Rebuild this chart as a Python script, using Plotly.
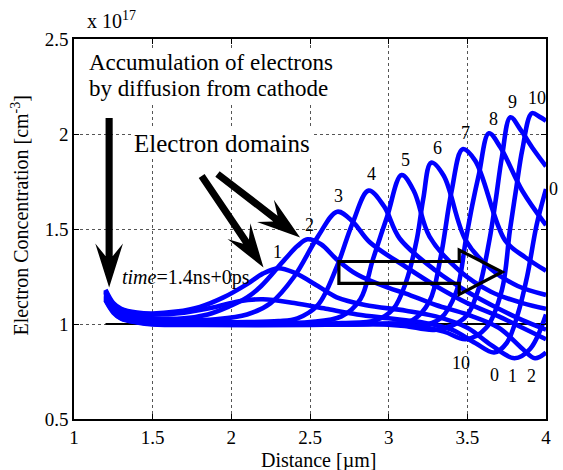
import plotly.graph_objects as go

# ---------------- data ----------------
x_ticks = [1, 1.5, 2, 2.5, 3, 3.5, 4]
x_tick_labels = ["1", "1.5", "2", "2.5", "3", "3.5", "4"]
y_ticks = [0.5, 1, 1.5, 2, 2.5]
y_tick_labels = ["0.5", "1", "1.5", "2", "2.5"]

doping_x = [1.2, 4.0]
doping_y = [1.0, 1.0]

x_t0 = [1.20, 1.25, 1.30, 1.40, 1.50, 1.70, 1.90, 2.05, 2.20, 2.40, 2.60, 2.80, 3.00, 3.20, 3.40, 3.55, 3.67, 3.75, 3.82, 3.88, 3.94, 4.00]
y_t0 = [1.17, 1.10, 1.075, 1.055, 1.05, 1.06, 1.09, 1.12, 1.13, 1.11, 1.08, 1.05, 1.03, 1.01, 0.97, 0.90, 0.85, 0.90, 1.05, 1.25, 1.52, 1.71]

x_t1 = [1.20, 1.25, 1.30, 1.40, 1.50, 1.65, 1.80, 1.95, 2.10, 2.20, 2.296, 2.40, 2.55, 2.67, 2.85, 3.11, 3.30, 3.50, 3.65, 3.80, 3.90, 4.00]
y_t1 = [1.18, 1.11, 1.08, 1.06, 1.055, 1.065, 1.09, 1.14, 1.21, 1.265, 1.293, 1.27, 1.20, 1.14, 1.10, 1.07, 1.04, 0.98, 0.89, 0.82, 0.87, 1.05]

x_t2 = [1.20, 1.25, 1.30, 1.40, 1.50, 1.70, 1.85, 1.98, 2.10, 2.19, 2.34, 2.42, 2.484, 2.57, 2.67, 2.80, 3.00, 3.11, 3.30, 3.50, 3.70, 3.85, 3.93, 4.00]
y_t2 = [1.175, 1.10, 1.07, 1.04, 1.03, 1.03, 1.05, 1.09, 1.14, 1.20, 1.34, 1.41, 1.446, 1.42, 1.34, 1.26, 1.19, 1.16, 1.10, 1.05, 0.98, 0.87, 0.82, 0.85]

x_t3 = [1.20, 1.25, 1.30, 1.40, 1.50, 1.70, 1.90, 2.10, 2.25, 2.40, 2.55, 2.673, 2.77, 2.88, 3.11, 3.30, 3.50, 3.70, 3.85, 4.00]
y_t3 = [1.165, 1.09, 1.06, 1.035, 1.025, 1.02, 1.025, 1.05, 1.11, 1.25, 1.46, 1.591, 1.54, 1.43, 1.30, 1.20, 1.11, 1.04, 0.98, 0.92]

x_t4 = [1.20, 1.25, 1.30, 1.40, 1.50, 1.80, 2.10, 2.30, 2.42, 2.55, 2.67, 2.77, 2.872, 2.97, 3.07, 3.30, 3.50, 3.70, 3.85, 4.00]
y_t4 = [1.16, 1.09, 1.055, 1.03, 1.02, 1.01, 1.01, 1.015, 1.03, 1.10, 1.30, 1.53, 1.702, 1.62, 1.45, 1.28, 1.17, 1.08, 1.02, 0.97]

x_t5 = [1.20, 1.25, 1.30, 1.40, 1.50, 1.80, 2.20, 2.50, 2.70, 2.82, 2.90, 2.99, 3.082, 3.16, 3.26, 3.45, 3.65, 3.85, 4.00]
y_t5 = [1.15, 1.085, 1.05, 1.025, 1.015, 1.005, 1.005, 1.01, 1.04, 1.13, 1.34, 1.565, 1.784, 1.70, 1.46, 1.28, 1.17, 1.11, 1.08]

x_t6 = [1.20, 1.25, 1.30, 1.40, 1.50, 1.80, 2.30, 2.70, 2.92, 3.03, 3.11, 3.18, 3.22, 3.27, 3.35, 3.49, 3.65, 3.82, 4.00]
y_t6 = [1.145, 1.08, 1.045, 1.02, 1.01, 1.0, 1.0, 1.005, 1.02, 1.08, 1.22, 1.45, 1.66, 1.849, 1.78, 1.44, 1.29, 1.20, 1.153]

x_t7 = [1.20, 1.25, 1.30, 1.40, 1.50, 1.80, 2.40, 2.90, 3.15, 3.26, 3.33, 3.40, 3.47, 3.55, 3.74, 3.87, 4.00]
y_t7 = [1.14, 1.075, 1.04, 1.015, 1.005, 1.0, 1.0, 1.0, 1.02, 1.12, 1.35, 1.70, 1.92, 1.86, 1.44, 1.35, 1.28]

x_t8 = [1.20, 1.25, 1.30, 1.40, 1.50, 1.80, 2.50, 3.00, 3.20, 3.33, 3.43, 3.49, 3.53, 3.574, 3.637, 3.71, 3.85, 4.00]
y_t8 = [1.135, 1.07, 1.035, 1.012, 1.003, 0.998, 0.998, 1.0, 0.99, 1.03, 1.17, 1.44, 1.62, 1.79, 2.004, 1.93, 1.70, 1.52]

x_t9 = [1.20, 1.25, 1.30, 1.40, 1.50, 1.80, 2.50, 2.90, 3.10, 3.30, 3.48, 3.57, 3.64, 3.68, 3.72, 3.774, 3.84, 3.92, 4.00]
y_t9 = [1.13, 1.065, 1.03, 1.01, 1.0, 0.997, 0.997, 1.0, 0.99, 0.97, 1.03, 1.18, 1.44, 1.65, 1.88, 2.088, 2.02, 1.92, 1.83]

x_t10 = [1.20, 1.25, 1.30, 1.40, 1.50, 1.80, 2.50, 2.90, 3.10, 3.35, 3.49, 3.62, 3.72, 3.77, 3.81, 3.85, 3.91, 3.96, 4.00]
y_t10 = [1.125, 1.06, 1.028, 1.008, 0.998, 0.995, 0.995, 1.0, 1.0, 0.96, 0.92, 0.98, 1.18, 1.49, 1.71, 1.92, 2.109, 2.09, 2.07]

series_x = [x_t0, x_t1, x_t2, x_t3, x_t4, x_t5, x_t6, x_t7, x_t8, x_t9, x_t10]
series_y = [y_t0, y_t1, y_t2, y_t3, y_t4, y_t5, y_t6, y_t7, y_t8, y_t9, y_t10]

top_labels = ["1", "2", "3", "4", "5", "6", "7", "8", "9", "10", "0"]
bottom_labels = ["10", "0", "1", "2"]

# ---------------- layout helpers ----------------
W, H = 563, 470
L, R, T, B = 74, 551, 39, 419
FONT = "Times New Roman, Liberation Serif, serif"


def dx(px):
    return 1 + (px - L) / (R - L) * 3


def dy(py):
    return 2.5 - (py - T) / (B - T) * 2


def arrow_path(tail, tip, w=3.6, hl=44, hw=14, notch=17):
    (tx, ty), (hx, hy) = tail, tip
    vx, vy = hx - tx, hy - ty
    ln = (vx ** 2 + vy ** 2) ** 0.5
    ux, uy = vx / ln, vy / ln
    nx, ny = -uy, ux
    s = 1 - w / hw
    a = -hl + s * notch
    pts = [
        (tx + w * nx, ty + w * ny),
        (hx + a * ux + w * nx, hy + a * uy + w * ny),
        (hx - hl * ux + hw * nx, hy - hl * uy + hw * ny),
        (hx, hy),
        (hx - hl * ux - hw * nx, hy - hl * uy - hw * ny),
        (hx + a * ux - w * nx, hy + a * uy - w * ny),
        (tx - w * nx, ty - w * ny),
    ]
    return "M" + "L".join(f"{dx(p[0]):.5f},{dy(p[1]):.5f}" for p in pts) + "Z"


fig = go.Figure()

fig.add_trace(go.Scatter(x=doping_x, y=doping_y, mode="lines",
                         line=dict(color="black", width=2), hoverinfo="skip"))

for xs, ys in zip(series_x, series_y):
    fig.add_trace(go.Scatter(x=xs, y=ys, mode="lines",
                             line=dict(color="#0000FF", width=4.6, shape="spline", smoothing=1.0),
                             hoverinfo="skip"))

shapes = []
for tail, tip in [((109.5, 118), (109.5, 287.5)),
                  ((203, 176), (265.5, 267.5)),
                  ((219, 174), (302.5, 237.5))]:
    shapes.append(dict(type="path", path=arrow_path(tail, tip), xref="x", yref="y",
                       fillcolor="black", line=dict(width=0), layer="above"))

hollow = [(341.7, 261.5), (463.3, 261.5), (463.3, 250), (506.7, 272), (463.3, 294.3),
          (463.3, 283.3), (341.7, 283.3)]
shapes.append(dict(type="path",
                   path="M" + "L".join(f"{dx(p[0]):.5f},{dy(p[1]):.5f}" for p in hollow) + "Z",
                   xref="x", yref="y", line=dict(color="black", width=3.2),
                   fillcolor="rgba(0,0,0,0)", layer="above"))

ann = []
top_pos = [(280, 252), (312, 225), (341.7, 196), (374.5, 174), (409, 160), (441.7, 148.3),
           (469.3, 133.3), (497.7, 119.3), (516.7, 102.3), (541.7, 98.3), (558.3, 189)]
for t, (px, py) in zip(top_labels, top_pos):
    ann.append(dict(x=(px - L) / (R - L), y=(B - py) / (B - T), xref="paper", yref="paper",
                    text=t, showarrow=False,
                    font=dict(family=FONT, size=18, color="black"), xanchor="center", yanchor="middle"))
bot_pos = [(465, 362.7), (499, 375), (517.3, 376), (536.7, 376)]
for t, (px, py) in zip(bottom_labels, bot_pos):
    ann.append(dict(x=(px - L) / (R - L), y=(B - py) / (B - T), xref="paper", yref="paper",
                    text=t, showarrow=False,
                    font=dict(family=FONT, size=18, color="black"), xanchor="center", yanchor="middle"))

ann.append(dict(x=dx(87), y=dy(62), xref="x", yref="y", text="Accumulation of electrons",
                showarrow=False, xanchor="left", yanchor="middle", bgcolor="white",
                font=dict(family=FONT, size=23, color="black")))
ann.append(dict(x=dx(87), y=dy(88.5), xref="x", yref="y", text="by diffusion from cathode",
                showarrow=False, xanchor="left", yanchor="middle", bgcolor="white",
                font=dict(family=FONT, size=23, color="black")))
ann.append(dict(x=dx(133), y=dy(143), xref="x", yref="y", text="Electron domains",
                showarrow=False, xanchor="left", yanchor="middle", bgcolor="white",
                font=dict(family=FONT, size=25, color="black")))
ann.append(dict(x=dx(120), y=dy(277), xref="x", yref="y", text="<i>time</i>=1.4ns+0ps",
                showarrow=False, xanchor="left", yanchor="middle",
                font=dict(family=FONT, size=20, color="black")))
ann.append(dict(x=(85 - L) / (R - L), y=(B - 20) / (B - T), xref="paper", yref="paper",
                text="x 10<sup>17</sup>", showarrow=False, xanchor="left", yanchor="middle",
                font=dict(family=FONT, size=20, color="black")))
ann.append(dict(x=(19 - L) / (R - L), y=(B - 216) / (B - T), xref="paper", yref="paper",
                text="Electron Concentration [cm<sup>-3</sup>]", textangle=-90, showarrow=False,
                xanchor="center", yanchor="middle", font=dict(family=FONT, size=20, color="black")))
ann.append(dict(x=(321 - L) / (R - L), y=(B - 461) / (B - T), xref="paper", yref="paper",
                text="Distance [µm]", showarrow=False, xanchor="center", yanchor="middle",
                font=dict(family=FONT, size=20, color="black")))

axis_common = dict(showline=True, linecolor="black", linewidth=1.5, mirror="ticks",
                   ticks="inside", ticklen=5, tickcolor="black", tickwidth=1,
                   showgrid=True, gridcolor="#555555", gridwidth=1, griddash="dot",
                   zeroline=False, tickfont=dict(family=FONT, size=19, color="black"))

fig.update_layout(
    width=W, height=H, margin=dict(l=L, r=W - R, t=T, b=H - B),
    paper_bgcolor="white", plot_bgcolor="white", showlegend=False,
    font=dict(family=FONT),
    xaxis=dict(range=[1, 4], tickvals=x_ticks, ticktext=x_tick_labels, **axis_common),
    yaxis=dict(range=[0.5, 2.5], tickvals=y_ticks, ticktext=y_tick_labels, **axis_common),
    shapes=shapes, annotations=ann,
)

fig.write_html("out.html")
